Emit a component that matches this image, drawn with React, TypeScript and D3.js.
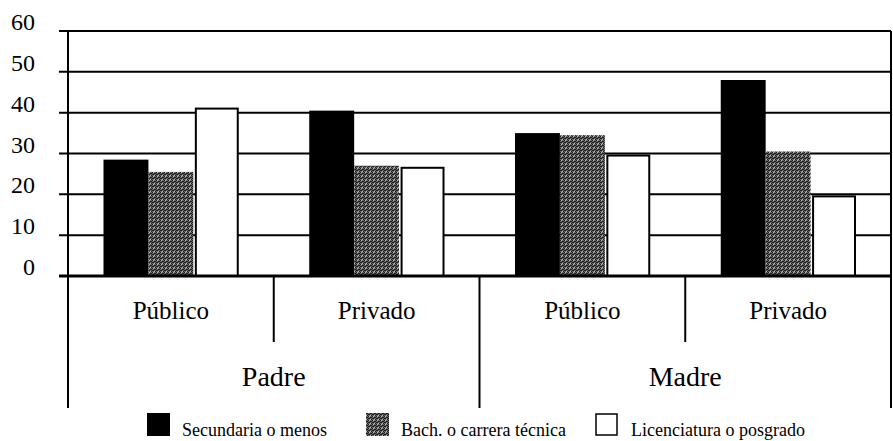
import React from "react";
import * as d3 from "d3";

const parents = ["Padre", "Madre"];
const sectors = ["Público", "Privado"];
const seriesNames = ["Secundaria o menos", "Bach. o carrera técnica", "Licenciatura o posgrado"];
const secundaria = [28.5, 40.5, 35, 48];
const bach = [25.5, 27, 34.5, 30.5];
const licenciatura = [41, 26.5, 29.5, 19.5];
const yTicks = [0, 10, 20, 30, 40, 50, 60];

const W = 893;
const H = 441;
const FONT = "Liberation Serif";

const left = 68, right = 891, top = 31, base = 276;
const groups = parents.flatMap(p => sectors.map(s => `${p}|${s}`));
const values = [secundaria, bach, licenciatura];
const fills = ["#000", "url(#stip)", "#fff"];

const x0 = d3.scaleBand().domain(groups).range([left, right]);
const x1 = d3.scaleBand().domain(seriesNames).range([0, x0.bandwidth()]).paddingOuter(0.79);
const xParent = d3.scaleBand().domain(parents).range([left, right]);
const y = d3.scaleLinear().domain([0, 60]).range([base, top]);

// dots for the stippled series
const darkDots = [[0, 0], [2, 1], [1, 2], [3, 3], [3, 1], [0, 2]];
const lightDots = [[1, 0], [2, 3]];

const App = () => {
    const legX = [147, 366, 595];
    const legText = [182, 401, 631];
    return (
        <svg
            width={W}
            height={H}
            style={{ position: "absolute", left: 0, top: 0, background: "#fff" }}
        >
            <defs>
                <pattern id="stip" width={4} height={4} patternUnits="userSpaceOnUse">
                    <rect width={4} height={4} fill="#666" />
                    {darkDots.map(([a, b], i) => (
                        <rect key={"d" + i} x={a} y={b} width={1} height={1} fill="#1a1a1a" />
                    ))}
                    {lightDots.map(([a, b], i) => (
                        <rect key={"l" + i} x={a} y={b} width={1} height={1} fill="#bbb" />
                    ))}
                </pattern>
            </defs>

            {/* gridlines */}
            {yTicks.filter(d => d > 0).map(d => (
                <line key={d} x1={left - 9} x2={right} y1={y(d)} y2={y(d)} stroke="#000" strokeWidth={2} />
            ))}

            {/* y labels */}
            {yTicks.map(d => (
                <text key={d} x={35} y={y(d) - 1} textAnchor="end" style={{ fontFamily: FONT, fontSize: 24 }}>
                    {d}
                </text>
            ))}

            {/* bars */}
            {values.map((vals, si) =>
                vals.map((v, i) => (
                    <rect
                        key={si + "-" + i}
                        x={x0(groups[i])! + x1(seriesNames[si])! + (si === 2 ? 2.5 : 0)}
                        y={y(v)}
                        width={x1.bandwidth() - (si === 2 ? 3 : 0)}
                        height={base - y(v)}
                        fill={fills[si]}
                        stroke={si === 2 ? "#000" : "none"}
                        strokeWidth={2}
                    />
                ))
            )}

            {/* frame */}
            <line x1={left} x2={left} y1={top} y2={408} stroke="#000" strokeWidth={2} />
            <line x1={right} x2={right} y1={top} y2={408} stroke="#000" strokeWidth={2} />
            <line x1={left - 9} x2={right} y1={base} y2={base} stroke="#000" strokeWidth={3} />

            {/* separators */}
            <line x1={xParent("Madre")!} x2={xParent("Madre")!} y1={base} y2={408} stroke="#000" strokeWidth={2} />
            {parents.map(p => {
                const xs = x0(`${p}|Privado`)!;
                return <line key={p} x1={xs} x2={xs} y1={base} y2={342} stroke="#000" strokeWidth={2} />;
            })}

            {/* category labels */}
            {groups.map(g => (
                <text
                    key={g}
                    x={x0(g)! + x0.bandwidth() / 2}
                    y={319}
                    textAnchor="middle"
                    style={{ fontFamily: FONT, fontSize: 25 }}
                >
                    {g.split("|")[1]}
                </text>
            ))}
            {parents.map(p => (
                <text
                    key={p}
                    x={xParent(p)! + xParent.bandwidth() / 2}
                    y={386}
                    textAnchor="middle"
                    style={{ fontFamily: FONT, fontSize: 28 }}
                >
                    {p}
                </text>
            ))}

            {/* legend */}
            {seriesNames.map((name, i) => (
                <g key={name}>
                    <rect
                        x={legX[i] + (i === 2 ? 1 : 0)}
                        y={413 + (i === 2 ? 1 : 0)}
                        width={23 - (i === 2 ? 2 : 0)}
                        height={23 - (i === 2 ? 2 : 0)}
                        fill={fills[i]}
                        stroke={i === 2 ? "#000" : "none"}
                        strokeWidth={1.5}
                    />
                    <text x={legText[i]} y={436} style={{ fontFamily: FONT, fontSize: 18 }}>
                        {name}
                    </text>
                </g>
            ))}
        </svg>
    );
};

export default App;
